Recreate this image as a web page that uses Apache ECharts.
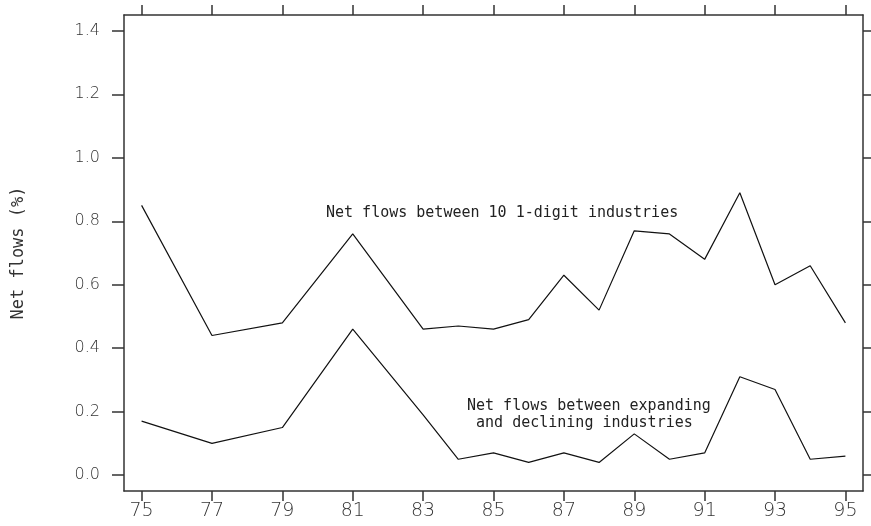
<!DOCTYPE html>
<html>
<head>
<meta charset="utf-8">
<script src="https://cdn.jsdelivr.net/npm/echarts@6/dist/echarts.min.js"></script>
<style>
  html, body { margin: 0; padding: 0; background: #fff; }
  #chart { width: 871px; height: 526px; }
</style>
</head>
<body>
<div id="chart"></div>
<script>
// years with observations (odd years until 83, then every year)
const years = [75, 77, 79, 81, 83, 84, 85, 86, 87, 88, 89, 90, 91, 92, 93, 94, 95];

// net flows between 10 1-digit industries
const oneDigitFlows = [0.85, 0.44, 0.48, 0.76, 0.46, 0.47, 0.46, 0.49, 0.63, 0.52, 0.77, 0.76, 0.68, 0.89, 0.60, 0.66, 0.48];

// net flows between expanding and declining industries
const expandDeclineFlows = [0.17, 0.10, 0.15, 0.46, 0.19, 0.05, 0.07, 0.04, 0.07, 0.04, 0.13, 0.05, 0.07, 0.31, 0.27, 0.05, 0.06];

const xTicks = [75, 77, 79, 81, 83, 85, 87, 89, 91, 93, 95];
const yTicks = [0, 0.2, 0.4, 0.6, 0.8, 1.0, 1.2, 1.4];

const axisColor = '#333';
const textColor = '#222';
const mono = '"DejaVu Sans Mono", monospace';

const chart = echarts.init(document.getElementById('chart'));

// common x axis (bottom has labels, top only ticks)
const xBase = {
  type: 'value',
  min: 74.5,
  max: 95.5,
  splitLine: { show: false },
  axisLine: { show: true, onZero: false, lineStyle: { color: axisColor, width: 1.5 } },
  axisTick: { show: true, inside: false, length: 10, customValues: xTicks, lineStyle: { color: axisColor, width: 1.5 } }
};

const yBase = {
  type: 'value',
  min: -0.05,
  max: 1.45,
  splitLine: { show: false },
  axisLine: { show: true, onZero: false, lineStyle: { color: axisColor, width: 1.5 } },
  axisTick: { show: true, inside: false, customValues: yTicks, lineStyle: { color: axisColor, width: 1.5 } }
};

chart.setOption({
  animation: false,
  backgroundColor: '#fff',
  grid: { left: 124, top: 15, right: 8, bottom: 35 },
  xAxis: [
    Object.assign({}, xBase, {
      position: 'bottom',
      axisLabel: {
        show: true,
        customValues: xTicks,
        margin: 11,
        fontFamily: '"DejaVu Sans", sans-serif',
        fontWeight: 200,
        fontSize: 19,
        color: '#333'
      }
    }),
    Object.assign({}, xBase, {
      position: 'top',
      axisLabel: { show: false }
    })
  ],
  yAxis: [
    Object.assign({}, yBase, {
      position: 'left',
      axisTick: Object.assign({}, yBase.axisTick, { length: 12 }),
      name: 'Net flows (%)',
      nameLocation: 'middle',
      nameGap: 97,
      nameRotate: 90,
      nameTextStyle: { fontFamily: mono, fontSize: 17, color: '#333' },
      axisLabel: {
        show: true,
        customValues: yTicks,
        margin: 24,
        fontFamily: '"DejaVu Sans", sans-serif',
        fontWeight: 200,
        fontSize: 16,
        color: '#333',
        formatter: v => v.toFixed(1)
      }
    }),
    Object.assign({}, yBase, {
      position: 'right',
      axisTick: Object.assign({}, yBase.axisTick, { length: 10 }),
      axisLabel: { show: false }
    })
  ],
  series: [
    {
      name: 'Net flows between 10 1-digit industries',
      type: 'line',
      data: years.map((y, i) => [y, oneDigitFlows[i]]),
      symbol: 'none',
      lineStyle: { color: '#111', width: 1.2 }
    },
    {
      name: 'Net flows between expanding and declining industries',
      type: 'line',
      data: years.map((y, i) => [y, expandDeclineFlows[i]]),
      symbol: 'none',
      lineStyle: { color: '#111', width: 1.2 }
    }
  ],
  graphic: [
    {
      type: 'text',
      left: 326,
      top: 206,
      style: { text: 'Net flows between 10 1-digit industries', font: '15px ' + mono, fill: textColor }
    },
    {
      type: 'text',
      left: 467,
      top: 398,
      style: {
        text: 'Net flows between expanding\n and declining industries',
        font: '15px ' + mono,
        lineHeight: 17,
        fill: textColor
      }
    }
  ]
});
</script>
</body>
</html>
